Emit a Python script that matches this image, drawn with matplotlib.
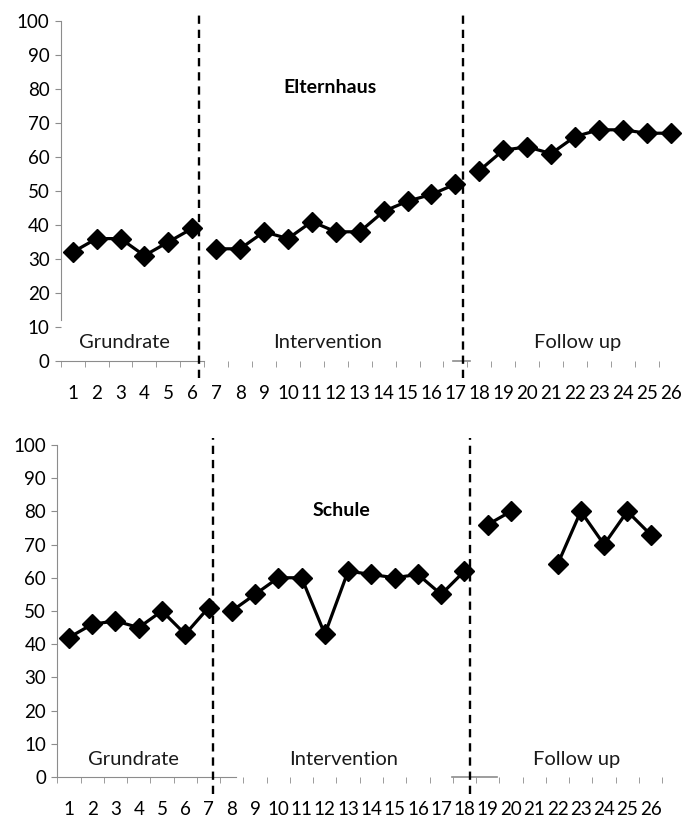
import numpy as np
import matplotlib.pyplot as plt

plt.rcParams['font.family'] = ['Lato', 'DejaVu Sans']

# Messzeitpunkte
sitzungen = np.arange(1, 27)

# Elternhaus
eltern_grund = [32, 36, 36, 31, 35, 39]
eltern_interv = [33, 33, 38, 36, 41, 38, 38, 44, 47, 49, 52]
eltern_follow = [56, 62, 63, 61, 66, 68, 68, 67, 67]

# Schule (Messung 21 fehlt)
schule_grund = [42, 46, 47, 45, 50, 43, 51]
schule_interv = [50, 55, 60, 60, 43, 62, 61, 60, 61, 55, 62]
schule_follow = [76, 80, np.nan, 64, 80, 70, 80, 73]

phasen = ["Grundrate", "Intervention", "Follow up"]
grau = '#8c8c8c'


def panel(ax, grund, interv, follow, titel, grenzen, titel_pos, label_x,
          achse_x, stueck_x, links_ab):
    teile = [grund, interv, follow]
    start = 0
    for werte in teile:
        x = sitzungen[start:start + len(werte)]
        ax.plot(x, werte, color='black', lw=2.3, marker='D', ms=10,
                mfc='black', mec='black', zorder=4)
        start += len(werte)

    # Phasenwechsel
    for g in grenzen:
        ax.plot([g, g], [-5, 102], color='black', lw=1.7, ls=(0, (3.5, 2.5)),
                clip_on=False, zorder=5)

    ax.set_xlim(0.5, 26.5)
    ax.set_ylim(0, 100)
    ax.set_yticks(range(0, 101, 10))
    ax.set_xticks(sitzungen)
    ax.set_xticks(np.arange(0.5, 27, 1), minor=True)
    ax.tick_params(axis='x', which='major', length=0, pad=17, labelsize=13.5)
    ax.tick_params(axis='x', which='minor', length=4, color=grau,
                   direction='out')
    ax.tick_params(axis='y', length=4, color=grau, labelsize=13.5, pad=4)

    for s in ['top', 'right']:
        ax.spines[s].set_visible(False)
    ax.spines['left'].set_color(grau)
    ax.spines['left'].set_bounds(links_ab, 100)
    ax.spines['bottom'].set_color(grau)
    ax.spines['bottom'].set_bounds(0.5, achse_x)
    ax.plot(stueck_x, [0, 0], color=grau, lw=1.2, clip_on=False, zorder=3)

    ax.text(titel_pos[0], titel_pos[1], titel, fontsize=14, fontweight='bold',
            ha='center', va='center')
    for px, name in zip(label_x, phasen):
        ax.text(px, 5.3, name, fontsize=14.5, ha='center', va='center',
                color='#1a1a1a')


fig = plt.figure(figsize=(6.82, 8.18), dpi=100)

ax1 = fig.add_axes([0.089, 0.5587, 0.912, 0.4156])
panel(ax1, eltern_grund, eltern_interv, eltern_follow, "Elternhaus",
      [6.3, 17.3], (11.75, 80.5), [3.16, 11.67, 22.1],
      6.5, [16.9, 17.6], 12)

ax2 = fig.add_axes([0.084, 0.0501, 0.887, 0.406])
panel(ax2, schule_grund, schule_interv, schule_follow, "Schule",
      [7.2, 18.25], (12.7, 80.4), [3.77, 12.8, 22.8],
      8.2, [17.45, 19.4], 0)

fig.savefig("out.png", dpi=100)
